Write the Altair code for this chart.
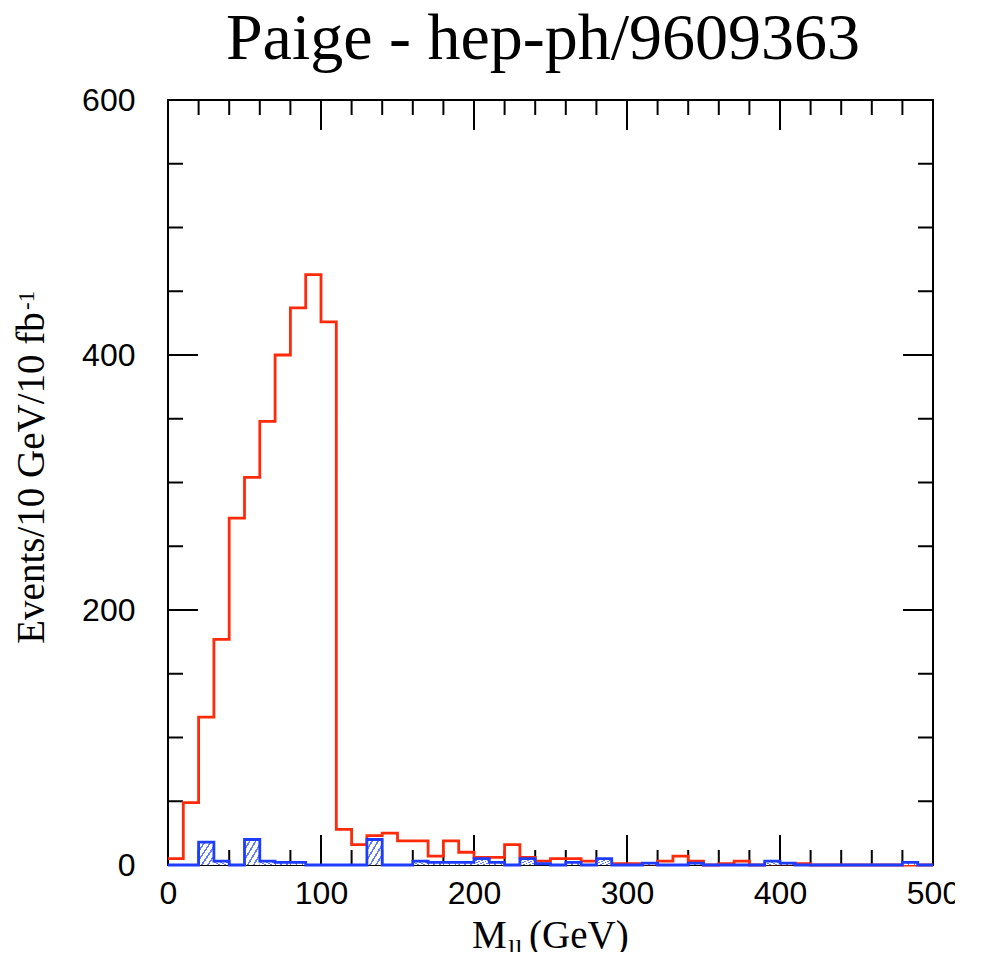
import altair as alt
import pandas as pd

# ---- data ----
bin_edges = list(range(0, 510, 10))
red_counts = [5, 49, 116, 177, 272, 304, 348, 400, 437, 463,
              426, 28, 16, 23, 25, 19, 19, 7, 19, 10,
              6, 6, 16, 6, 3, 5, 5, 3, 3, 1,
              1, 1, 3, 7, 3, 0, 1, 3, 0, 1,
              1, 1, 0, 0, 0, 0, 0, 0, 0, 0]
blue_counts = [0, 0, 18, 3, 0, 20, 3, 2, 2, 0,
               0, 0, 0, 20, 0, 0, 3, 2, 2, 2,
               5, 2, 0, 5, 1, 0, 2, 0, 5, 0,
               0, 1.5, 0, 0, 1.5, 0, 0, 0, 0, 3,
               1.5, 0, 0, 0, 0, 0, 0, 0, 2, 0]
x_major_ticks = [0, 100, 200, 300, 400, 500]
x_minor_ticks = [v for v in range(20, 500, 20) if v % 100 != 0]
y_major_ticks = [0, 200, 400, 600]
y_minor_ticks = [50, 100, 150, 250, 300, 350, 450, 500, 550]
title_text = ["Paige - hep-ph/9609363"]
ytitle_main = ["Events/10 GeV/10 fb"]
ytitle_sup = ["-1"]
xtitle_parts = ["M", "ll", "(GeV)"]

W, H = 765, 765
RED = "#ff2a0a"
BLUE = "#1f3dff"

red_df = pd.DataFrame({"x": bin_edges, "y": red_counts + [red_counts[-1]]})
blue_df = pd.DataFrame({"x": bin_edges, "y": blue_counts + [blue_counts[-1]]})
blue_bars = pd.DataFrame({"x": bin_edges[:-1], "x2": bin_edges[1:], "y": blue_counts})

xscale = alt.Scale(domain=[0, 500], nice=False, zero=False)
yscale = alt.Scale(domain=[0, 600], nice=False)

xaxis = alt.Axis(values=x_major_ticks, title=None, ticks=False, tickSize=0, domain=False,
                 grid=False, labelFontSize=32, labelPadding=13, labelFont="Liberation Sans",
                 labelColor="black", labelFlush=False, format="d")
yaxis = alt.Axis(values=y_major_ticks, title=None, ticks=False, tickSize=0, domain=False,
                 grid=False, labelFontSize=32, labelPadding=33, labelFont="Liberation Sans",
                 labelColor="black", format="d")


def xticks(vals, length, top):
    df = pd.DataFrame({"x": vals})
    if top:
        yy, yy2 = alt.value(0), alt.value(length)
    else:
        yy, yy2 = alt.value(H), alt.value(H - length)
    return alt.Chart(df).mark_rule(color="black", strokeWidth=2).encode(
        x=alt.X("x:Q", scale=xscale, axis=xaxis), y=yy, y2=yy2)


def yticks(vals, length, right):
    df = pd.DataFrame({"y": vals})
    if right:
        xx, xx2 = alt.value(W), alt.value(W - length)
    else:
        xx, xx2 = alt.value(0), alt.value(length)
    return alt.Chart(df).mark_rule(color="black", strokeWidth=2).encode(
        y=alt.Y("y:Q", scale=yscale, axis=yaxis), x=xx, x2=xx2)


ticks = [
    xticks(x_major_ticks, 30, False), xticks(x_major_ticks, 30, True),
    xticks(x_minor_ticks, 15, False), xticks(x_minor_ticks, 15, True),
    yticks(y_major_ticks, 30, False), yticks(y_major_ticks, 30, True),
    yticks(y_minor_ticks, 15, False), yticks(y_minor_ticks, 15, True),
]

red_line = alt.Chart(red_df).mark_line(interpolate="step-after", color=RED, strokeWidth=2.8).encode(
    x=alt.X("x:Q", scale=xscale, axis=xaxis),
    y=alt.Y("y:Q", scale=yscale, axis=yaxis),
)

stops = [alt.GradientStop(color="white", offset=0.0)]
for c in [0.2, 0.4, 0.6, 0.8]:
    stops += [
        alt.GradientStop(color="white", offset=c - 0.03),
        alt.GradientStop(color="#5f7bff", offset=c - 0.03),
        alt.GradientStop(color="#5f7bff", offset=c + 0.03),
        alt.GradientStop(color="white", offset=c + 0.03),
    ]
stops.append(alt.GradientStop(color="white", offset=1.0))
hatch = alt.LinearGradient(gradient="linear", stops=stops, x1=0, y1=0, x2=1, y2=1)

blue_fill = alt.Chart(blue_bars).mark_bar(fill=hatch, strokeWidth=0).encode(
    x=alt.X("x:Q", scale=xscale, axis=xaxis),
    x2="x2:Q",
    y=alt.Y("y:Q", scale=yscale, axis=yaxis),
    y2=alt.datum(0),
)

blue_line = alt.Chart(blue_df).mark_line(interpolate="step-after", color=BLUE, strokeWidth=2.8).encode(
    x=alt.X("x:Q", scale=xscale, axis=xaxis),
    y=alt.Y("y:Q", scale=yscale, axis=yaxis),
)

title = alt.Chart(pd.DataFrame({"t": title_text})).mark_text(
    font="Liberation Serif", fontSize=66, align="center", baseline="alphabetic", color="black"
).encode(text="t:N", x=alt.value(375), y=alt.value(-41))

ytitle = alt.Chart(pd.DataFrame({"t": ytitle_main})).mark_text(
    font="Liberation Serif", fontSize=39, align="center", baseline="alphabetic", angle=270, color="black"
).encode(text="t:N", x=alt.value(-124), y=alt.value(378))

ysup = alt.Chart(pd.DataFrame({"t": ytitle_sup})).mark_text(
    font="Liberation Serif", fontSize=23, align="left", baseline="alphabetic", angle=270, color="black"
).encode(text="t:N", x=alt.value(-134), y=alt.value(210))

xt_m = alt.Chart(pd.DataFrame({"t": [xtitle_parts[0]]})).mark_text(
    font="Liberation Serif", fontSize=39, align="left", baseline="alphabetic", color="black"
).encode(text="t:N", x=alt.value(304), y=alt.value(848))
xt_ll = alt.Chart(pd.DataFrame({"t": [xtitle_parts[1]]})).mark_text(
    font="Liberation Serif", fontSize=26, align="left", baseline="alphabetic", color="black"
).encode(text="t:N", x=alt.value(340), y=alt.value(857))
xt_gev = alt.Chart(pd.DataFrame({"t": [xtitle_parts[2]]})).mark_text(
    font="Liberation Serif", fontSize=39, align="left", baseline="alphabetic", color="black"
).encode(text="t:N", x=alt.value(361), y=alt.value(848))

chart = alt.layer(
    *ticks, red_line, blue_fill, blue_line, title, ytitle, ysup, xt_m, xt_ll, xt_gev
).properties(
    width=W, height=H,
    padding={"left": 160, "top": 92, "right": 22, "bottom": 87},
    autosize=alt.AutoSizeParams(type="none"),
    background="white",
).configure_view(stroke="black", strokeWidth=2)

chart.save("out.html", embed_options={"renderer": "svg", "actions": False})
